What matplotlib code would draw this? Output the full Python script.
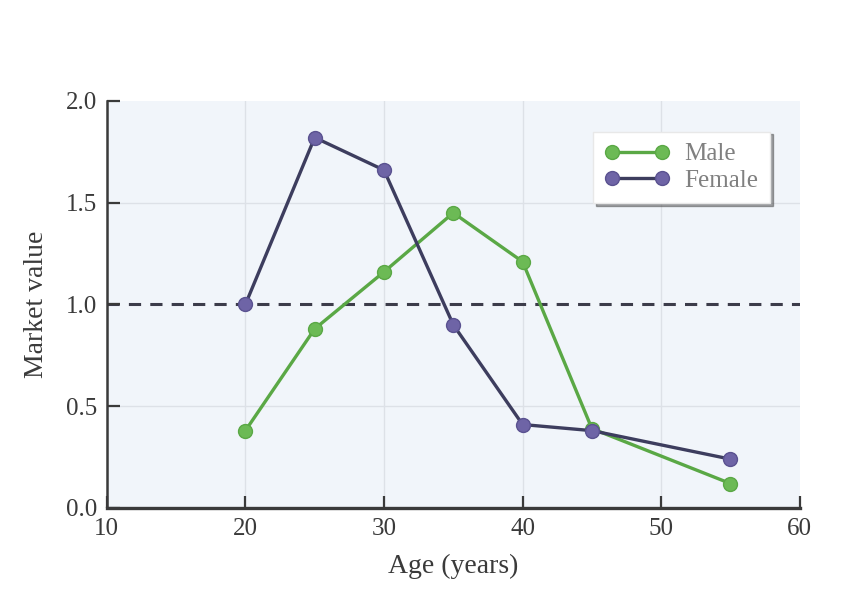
import matplotlib.pyplot as plt

# ----------------------------
# Data
# ----------------------------
ages = [20, 25, 30, 35, 40, 45, 55]
male = [0.38, 0.88, 1.16, 1.45, 1.21, 0.39, 0.12]
female = [1.00, 1.82, 1.66, 0.90, 0.41, 0.38, 0.24]

x_ticks = [10, 20, 30, 40, 50, 60]
y_ticks = [0.0, 0.5, 1.0, 1.5, 2.0]

plt.rcParams.update({
    "font.family": "Liberation Serif",
    "font.size": 18,
    "text.color": "#3a3a3a",
    "axes.labelcolor": "#3a3a3a",
    "xtick.color": "#3a3a3a",
    "ytick.color": "#3a3a3a",
})

fig = plt.figure(figsize=(8.41, 5.90), dpi=100)
ax = fig.add_axes([0.127, 0.139, 0.824, 0.690])
ax.set_facecolor("#f1f5fa")

# grid
for x in x_ticks[1:-1]:
    ax.axvline(x, color="#dde1e7", lw=1.0, zorder=0)
for y in [0.5, 1.5]:
    ax.axhline(y, color="#dde1e7", lw=1.0, zorder=0)
ax.axhline(1.0, color="#3c3c4a", lw=2.2, ls=(0, (4, 3)), zorder=1)

ax.plot(ages, male, color="#5aa845", lw=2.4, marker="o", ms=10,
        markerfacecolor="#6cba55", markeredgecolor="#5aa845", label="Male", zorder=3)
ax.plot(ages, female, color="#3d3d5e", lw=2.4, marker="o", ms=10,
        markerfacecolor="#6e64a6", markeredgecolor="#5a5290", label="Female", zorder=3)

ax.set_xlim(10, 60)
ax.set_ylim(0, 2.0)
ax.set_xticks(x_ticks)
ax.set_yticks(y_ticks)
ax.set_yticklabels(["0.0", "0.5", "1.0", "1.5", "2.0"])
ax.tick_params(direction="in", length=9, width=1.6, pad=7, labelsize=18)

ax.spines["top"].set_visible(False)
ax.spines["right"].set_visible(False)
ax.spines["left"].set_linewidth(1.8)
ax.spines["bottom"].set_linewidth(2.4)
ax.spines["left"].set_color("#3a3a3a")
ax.spines["bottom"].set_color("#3a3a3a")

ax.set_xlabel("Age (years)", fontsize=20, labelpad=10)
ax.set_ylabel("Market value", fontsize=20, labelpad=12)

leg = ax.legend(loc="upper right", bbox_to_anchor=(0.975, 0.955), frameon=True,
                fancybox=False, shadow=True, fontsize=18, handlelength=2.6,
                numpoints=2, labelspacing=0.15, borderpad=0.45, handletextpad=0.6)
leg.get_frame().set_edgecolor("#e8e8e8")
leg.get_frame().set_facecolor("white")
for t in leg.get_texts():
    t.set_color("#808080")

fig.savefig("out.png", dpi=100)
